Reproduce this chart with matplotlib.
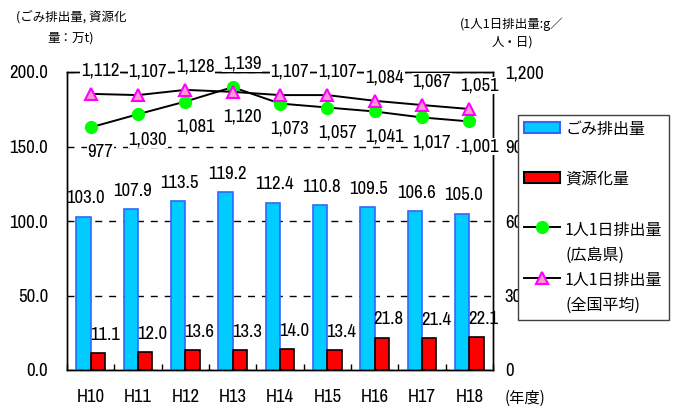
import matplotlib
matplotlib.use('Agg')
import matplotlib.pyplot as plt
from matplotlib import font_manager as fm
from matplotlib.patches import Patch, Rectangle
from matplotlib.lines import Line2D
from matplotlib.legend_handler import HandlerPatch, HandlerLine2D
from matplotlib.ticker import FuncFormatter
import numpy as np

# ---- data ----
years = ['H10', 'H11', 'H12', 'H13', 'H14', 'H15', 'H16', 'H17', 'H18']
waste = [103.0, 107.9, 113.5, 119.2, 112.4, 110.8, 109.5, 106.6, 105.0]
recycled = [11.1, 12.0, 13.6, 13.3, 14.0, 13.4, 21.8, 21.4, 22.1]
per_capita_hiroshima = [977, 1030, 1081, 1139, 1073, 1057, 1041, 1017, 1001]
per_capita_national = [1112, 1107, 1128, 1120, 1107, 1107, 1084, 1067, 1051]
left_ticks = [0, 50, 100, 150, 200]
right_ticks = [0, 300, 600, 900, 1200]

JP = ['Noto Sans CJK JP', 'DejaVu Sans']

# pick a narrow font for numbers if one is installed
num_fp = None
for f in fm.fontManager.ttflist:
    if 'Narrow' in f.name or 'Condensed' in f.name:
        num_fp = fm.FontProperties(family=f.name)
        break
if num_fp is None:
    for f in fm.fontManager.ttflist:
        if 'DejaVuSansCondensed.ttf' in f.fname:
            num_fp = fm.FontProperties(fname=f.fname)
            break
if num_fp is None:
    num_fp = fm.FontProperties(family='Liberation Sans')
NUM_SIZE = 13.5
num_fp.set_size(NUM_SIZE)

plt.rcParams['font.family'] = ['Noto Sans CJK JP', 'DejaVu Sans']

W, H = 688, 412
fig = plt.figure(figsize=(W / 100, H / 100), dpi=100)
ax = fig.add_axes([67 / W, 1 - 370 / H, (493 - 67) / W, (370 - 72) / H])

x = np.arange(len(years))
bw = 0.3
ax.bar(x - bw / 2, waste, bw, color='#00CCFF', edgecolor='#3366FF', linewidth=1.2, zorder=3)
ax.bar(x + bw / 2, recycled, bw, color='#FF0000', edgecolor='#000000', linewidth=1.2, zorder=3)

for xi, v in zip(x, waste):
    ax.annotate(f'{v:.1f}', (xi - bw / 2, v), xytext=(1, 13), textcoords='offset points',
                ha='center', va='center', fontproperties=num_fp, zorder=6)
for xi, v in zip(x, recycled):
    ax.annotate(f'{v:.1f}', (xi + bw / 2, v), xytext=(5, 13), textcoords='offset points',
                ha='center', va='center', fontproperties=num_fp, zorder=6)

ax.set_xlim(-0.5, len(years) - 0.5)
ax.set_ylim(0, 200)
ax.set_yticks(left_ticks)
ax.yaxis.set_major_formatter(FuncFormatter(lambda v, p: f'{v:.1f}'))
ax.set_xticks(x)
ax.set_xticklabels(years)
ax.set_xticks(np.arange(-0.5, len(years), 1), minor=True)
ax.tick_params(axis='x', which='major', length=0, pad=14)
ax.tick_params(axis='x', which='minor', direction='in', length=4, width=1, bottom=True)
ax.tick_params(axis='y', length=0, pad=13.5)
for lab in ax.get_xticklabels() + ax.get_yticklabels():
    lab.set_fontproperties(num_fp)
ax.yaxis.grid(True, color='black', linestyle=(0, (5, 5)), linewidth=1.0)
ax.set_axisbelow(True)
for s in ax.spines.values():
    s.set_color('black')
    s.set_linewidth(1.0)

ax2 = ax.twinx()
ax2.set_ylim(0, 1200)
ax2.set_yticks(right_ticks)
ax2.yaxis.set_major_formatter(FuncFormatter(lambda v, p: f'{int(v):,}'))
ax2.tick_params(axis='y', length=0, pad=8.5)
for lab in ax2.get_yticklabels():
    lab.set_fontproperties(num_fp)
for s in ax2.spines.values():
    s.set_color('black')
    s.set_linewidth(1.0)

ax2.plot(x, per_capita_hiroshima, color='black', linewidth=1.4, marker='o', markersize=8.5,
         markerfacecolor='#00FF00', markeredgecolor='#00FF00', zorder=4)
ax2.plot(x, per_capita_national, color='black', linewidth=1.4, marker='^', markersize=9,
         markerfacecolor='#FF99CC', markeredgecolor='#FF00FF', markeredgewidth=1.5, zorder=4)

for i in range(len(years)):
    for series, other in ((per_capita_hiroshima, per_capita_national),
                          (per_capita_national, per_capita_hiroshima)):
        v = series[i]
        dy = 17 if v >= other[i] else -18
        ax2.annotate(f'{v:,}', (x[i], v), xytext=(7, dy), textcoords='offset points',
                     ha='center', va='center', fontproperties=num_fp, zorder=6,
                     bbox=dict(facecolor='white', edgecolor='none', pad=0.5))

fig.text(71 / W, 1 - 17 / H, '(ごみ排出量, 資源化', family=JP, fontsize=9, ha='center', va='center')
fig.text(71 / W, 1 - 38 / H, '量：万t)', family=JP, fontsize=9, ha='center', va='center')
fig.text(512 / W, 1 - 24 / H, '(1人1日排出量:g／', family=JP, fontsize=9, ha='center', va='center')
fig.text(512 / W, 1 - 42 / H, '人・日)', family=JP, fontsize=9, ha='center', va='center')
fig.text(525 / W, 1 - 398 / H, '(年度)', family=JP, fontsize=11, ha='center', va='center')

# legend: every label takes two lines; handles lifted to the first line
LEG_FS = 11.5
LINE_SP = 1.6
LIFT = 11.5  # points


class LiftedLine(HandlerLine2D):
    def create_artists(self, legend, orig_handle, xdescent, ydescent, width, height,
                       fontsize, trans):
        arts = super().create_artists(legend, orig_handle, xdescent, ydescent, width,
                                      height, fontsize, trans)
        for a in arts:
            a.set_ydata(np.asarray(a.get_ydata(), dtype=float) + LIFT)
        return arts


def lifted_rect(legend, orig_handle, xdescent, ydescent, width, height, fontsize):
    return Rectangle((-xdescent, -ydescent + LIFT), width, height)


bar_h = Patch(facecolor='#00CCFF', edgecolor='#3366FF', linewidth=1.5)
rec_h = Patch(facecolor='#FF0000', edgecolor='#000000', linewidth=1.5)
hir_h = Line2D([], [], color='black', linewidth=1.4, marker='o', markersize=8.5,
               markerfacecolor='#00FF00', markeredgecolor='#00FF00')
nat_h = Line2D([], [], color='black', linewidth=1.4, marker='^', markersize=9,
               markerfacecolor='#FF99CC', markeredgecolor='#FF00FF', markeredgewidth=1.5)
handles = [bar_h, rec_h, hir_h, nat_h]
labels = ['ごみ排出量\n ', '資源化量\n ', '1人1日排出量\n(広島県)', '1人1日排出量\n(全国平均)']
hmap = {
    bar_h: HandlerPatch(patch_func=lifted_rect),
    rec_h: HandlerPatch(patch_func=lifted_rect),
    hir_h: LiftedLine(),
    nat_h: LiftedLine(),
}
leg = fig.legend(handles, labels, handler_map=hmap, loc='upper left',
                 bbox_to_anchor=(518 / W, 1 - 115 / H),
                 frameon=True, fancybox=False, shadow=False, framealpha=1.0,
                 edgecolor='#404040', borderaxespad=0, borderpad=0.4,
                 handlelength=2.25, handleheight=0.7, handletextpad=0.3,
                 labelspacing=0.52, prop={'family': JP, 'size': LEG_FS})
leg.get_frame().set_linewidth(1.0)
for t in leg.get_texts():
    t.set_linespacing(LINE_SP)

fig.savefig('out.png', dpi=100)
